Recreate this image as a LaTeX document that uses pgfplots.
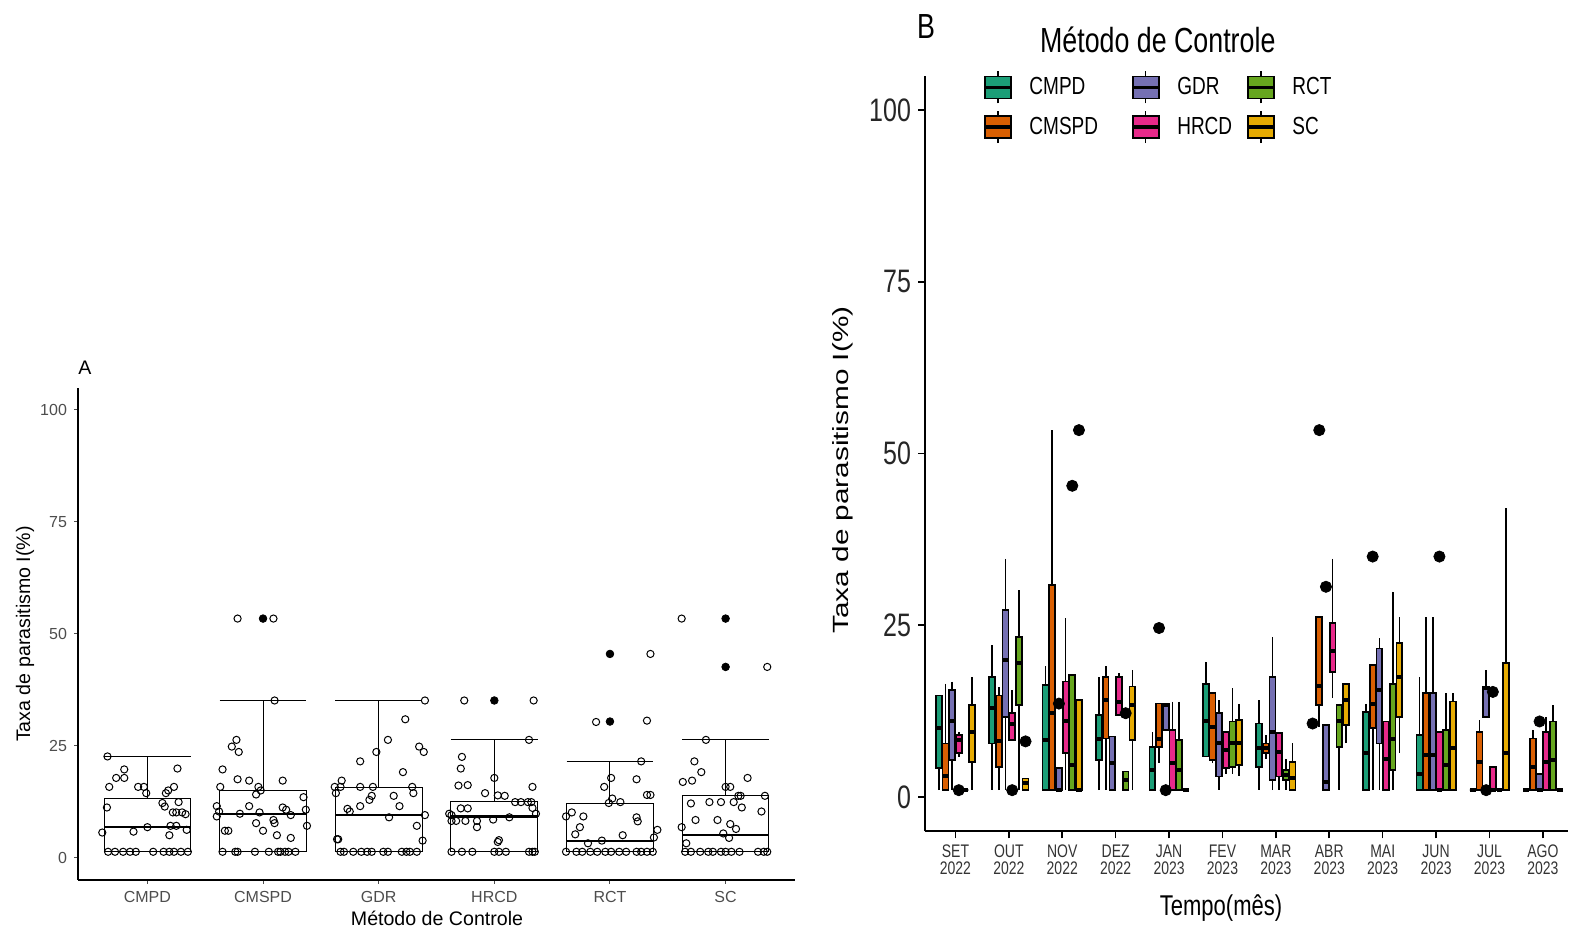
\documentclass[border=0pt]{standalone}
\usepackage{fontspec}
\setmainfont{Liberation Sans}
\usepackage{graphicx}
\usepackage{pgfplots}
\pgfplotsset{compat=1.18}
\usepgfplotslibrary{statistics}
\definecolor{c1}{HTML}{1B9E77}
\definecolor{c2}{HTML}{D95F02}
\definecolor{c3}{HTML}{7570B3}
\definecolor{c4}{HTML}{E7298A}
\definecolor{c5}{HTML}{66A61E}
\definecolor{c6}{HTML}{E6AB02}
\definecolor{axtext}{HTML}{4D4D4D}
\newcommand{\sy}[1]{\scalebox{1}[1.3]{#1}}
\newcommand{\mt}[2]{\sy{\begin{tabular}{@{}c@{}}#1\\[-1.5pt]#2\end{tabular}}}
% month, group, lower whisker, Q1, median, Q3, upper whisker
\newcommand{\bx}[7]{%
  \addplot[forget plot, fill=c#2, draw=black, line width=0.85pt,
    boxplot prepared={draw direction=y, draw position={#1+(#2-3.5)*0.125}, lower whisker=#3,
      lower quartile=#4, median=#5, upper quartile=#6, upper whisker=#7,
      box extend=0.11, whisker extend=0}] coordinates {};}
\newcommand{\ba}[6]{%
  \addplot[forget plot, fill=white, draw=black, line width=0.5pt,
    boxplot prepared={draw direction=y, draw position=#1, lower whisker=#2,
      lower quartile=#3, median=#4, upper quartile=#5, upper whisker=#6,
      box extend=0.75, whisker extend=0.75}] coordinates {};}
\pgfplotsset{boxleg/.style={legend image code/.code={
  \draw[black,line width=0.8pt] (6.5pt,-8pt) -- (6.5pt,8pt);
  \draw[fill=#1,draw=black,line width=0.85pt] (0pt,-5.5pt) rectangle (13pt,5.5pt);
  \draw[black,line width=1.6pt] (0pt,0pt) -- (13pt,0pt);}}}
\begin{document}
\begin{tikzpicture}
\useasboundingbox (0pt,0pt) rectangle (784.5pt,465.5pt);
% ---------------- Panel A ----------------
\begin{axis}[at={(39pt,25.5pt)}, anchor=south west, scale only axis,
  width=358.5pt, height=246.2pt, xmin=0.4, xmax=6.6, ymin=-5, ymax=105,
  axis x line*=bottom, axis y line*=left, axis line style={black,line width=0.6pt,-},
  xtick={1,2,3,4,5,6}, xticklabels={CMPD,CMSPD,GDR,HRCD,RCT,SC},
  ytick={0,25,50,75,100}, yticklabels={0,25,50,75,100},
  tick align=outside, major tick length=2pt, tick style={black!70,line width=0.5pt},
  ticklabel style={font=\fontsize{8}{9.6}\selectfont, text=axtext},
  boxplot/draw direction=y,
  boxplot/every median/.style={line width=1.2pt}, clip=false]
\ba{1}{1.3}{1.3}{6.8}{13.1}{22.6}
\ba{2}{1.3}{1.3}{9.8}{15.0}{35.0}
\ba{3}{1.3}{1.3}{9.5}{15.7}{35.0}
\ba{4}{1.3}{1.3}{9.2}{12.6}{26.3}
\ba{5}{1.3}{1.3}{3.7}{12.2}{21.5}
\ba{6}{1.3}{1.3}{5.1}{13.9}{26.3}
% filled outliers
\addplot[forget plot, only marks, mark=*, mark size=1.9pt, black] coordinates {
(2,53.4)(4,35.1)(5,30.4)(5,45.5)(6,42.6)(6,53.4)};
% jittered observations
\addplot[forget plot, only marks, mark=o, mark size=1.8pt, black, line width=0.5pt] coordinates {
(0.655,22.6)(0.67,15.8)(0.65,11.2)(0.61,5.6)(0.73,17.8)(0.80,17.8)(0.80,19.7)(0.92,15.8)(0.97,15.8)(0.99,14.4)(0.88,5.8)(1.0,6.8)(1.13,12.2)(1.16,14.4)(1.18,15.0)(1.15,11.4)(1.23,15.8)(1.26,19.9)(1.27,12.4)(1.22,10.1)(1.25,10.1)(1.30,10.1)(1.33,9.7)(1.20,7.1)(1.25,7.1)(1.19,5.0)(1.34,6.2)
(0.66,1.3)(0.72,1.3)(0.79,1.3)(0.85,1.3)(0.90,1.3)(1.05,1.3)(1.14,1.3)(1.19,1.3)(1.23,1.3)(1.29,1.3)(1.35,1.3)
(1.78,53.4)(2.09,53.4)(2.10,35.1)(1.77,26.3)(1.73,24.8)(1.79,23.6)(1.65,19.7)(1.63,15.8)(1.78,17.5)(1.88,17.2)(2.17,17.2)(1.96,15.8)(1.98,15.0)(1.94,14.1)(2.35,13.5)(1.60,11.5)(1.62,10.3)(1.60,9.2)(1.88,11.5)(1.80,9.8)(1.97,10.1)(2.17,11.2)(2.20,10.7)(2.37,10.7)(2.24,9.5)(1.94,7.7)(2.09,8.4)(2.10,7.7)(2.0,6.0)(2.12,5.0)(2.24,4.4)(2.38,7.1)(1.67,6.0)(1.70,6.0)
(1.65,1.3)(1.76,1.3)(1.78,1.3)(1.93,1.3)(2.05,1.3)(2.13,1.3)(2.15,1.3)(2.19,1.3)(2.22,1.3)(2.28,1.3)
(3.40,35.1)(3.23,30.9)(3.08,26.3)(2.98,23.6)(3.35,24.8)(3.39,23.6)(2.84,21.5)(3.21,19.1)(2.68,17.2)(2.62,15.8)(2.67,15.8)(2.84,15.8)(2.95,15.8)(3.29,15.8)(2.63,14.4)(3.30,14.4)(2.94,13.8)(3.13,13.8)(2.92,12.9)(2.84,11.5)(3.18,11.5)(2.73,10.9)(2.75,10.3)(3.09,9.0)(3.40,9.5)(3.33,7.1)(3.38,3.8)(2.64,4.1)(2.65,4.1)
(2.67,1.3)(2.70,1.3)(2.78,1.3)(2.85,1.3)(2.90,1.3)(2.94,1.3)(3.04,1.3)(3.08,1.3)(3.20,1.3)(3.24,1.3)(3.27,1.3)(3.33,1.3)
(3.74,35.1)(4.34,35.1)(4.30,26.3)(3.72,22.5)(3.71,19.9)(3.69,16.1)(3.77,16.2)(4.0,17.8)(4.33,15.8)(3.92,14.4)(4.03,13.9)(4.09,13.8)(4.18,12.4)(4.23,12.4)(4.29,12.4)(4.32,12.4)(4.33,11.1)(3.71,11.0)(3.77,11.0)(3.61,9.8)(3.63,9.5)(4.36,9.8)(3.63,8.2)(3.67,8.2)(3.75,8.2)(3.85,8.2)(3.99,8.5)(4.13,9.0)(3.85,6.8)(4.04,3.9)(4.03,3.5)
(3.63,1.3)(3.72,1.3)(3.81,1.3)(4.0,1.3)(4.04,1.3)(4.10,1.3)(4.30,1.3)(4.33,1.3)(4.35,1.3)
(5.35,45.5)(4.88,30.3)(5.32,30.6)(5.27,21.5)(5.01,17.8)(5.23,17.5)(4.95,15.8)(5.02,13.2)(5.09,12.4)(4.99,12.2)(5.32,14.0)(5.35,14.0)(4.67,10.1)(4.62,9.2)(4.77,9.2)(5.23,9.0)(5.24,8.1)(4.74,6.8)(4.70,5.2)(5.41,6.2)(5.38,4.5)(5.11,5.0)(4.93,3.8)(4.81,3.2)
(4.62,1.3)(4.71,1.3)(4.76,1.3)(4.83,1.3)(4.89,1.3)(4.96,1.3)(5.01,1.3)(5.08,1.3)(5.14,1.3)(5.23,1.3)(5.27,1.3)(5.32,1.3)(5.37,1.3)
(5.62,53.4)(6.36,42.6)(5.83,26.3)(5.73,21.5)(5.63,16.9)(5.71,17.2)(5.79,19.1)(6.19,17.8)(6.0,15.8)(6.04,15.8)(6.11,13.8)(6.13,13.8)(6.34,13.8)(5.70,12.1)(5.86,12.4)(5.96,12.4)(6.07,12.4)(6.14,11.2)(6.31,10.3)(5.74,8.4)(5.93,8.4)(6.04,7.5)(6.09,6.4)(5.62,6.8)(5.66,3.2)(5.98,5.4)(6.03,4.4)
(5.65,1.3)(5.70,1.3)(5.78,1.3)(5.85,1.3)(5.89,1.3)(5.96,1.3)(6.0,1.3)(6.05,1.3)(6.12,1.3)(6.28,1.3)(6.33,1.3)(6.36,1.3)
};
\end{axis}
% ---------------- Panel B ----------------
\begin{axis}[at={(462.5pt,49.8pt)}, anchor=south west, scale only axis,
  width=321.5pt, height=377.9pt, xmin=0.43, xmax=12.47, ymin=-5, ymax=105,
  axis x line*=bottom, axis y line*=left, axis line style={black,line width=0.9pt,-},
  xtick={1,2,3,4,5,6,7,8,9,10,11,12},
  xticklabels={\mt{SET}{2022},\mt{OUT}{2022},\mt{NOV}{2022},\mt{DEZ}{2022},\mt{JAN}{2023},\mt{FEV}{2023},\mt{MAR}{2023},\mt{ABR}{2023},\mt{MAI}{2023},\mt{JUN}{2023},\mt{JUL}{2023},\mt{AGO}{2023}},
  ytick={0,25,50,75,100}, yticklabels={\sy{0},\sy{25},\sy{50},\sy{75},\sy{100}},
  tick align=outside, major tick length=3.5pt, tick style={black,line width=0.8pt},
  xticklabel style={font=\fontsize{7}{8.2}\selectfont, text=black!80, align=center, yshift=1.5pt},
  yticklabel style={font=\fontsize{12.5}{14}\selectfont, text=black!85},
  boxplot/draw direction=y,
  boxplot/every median/.style={line width=2pt},
  legend columns=3, legend cell align=left,
  legend style={at={(axis description cs:0.09,1.007)}, anchor=north west, draw=none, fill=none,
    font=\fontsize{9.5}{11}\selectfont, inner sep=0pt, row sep=3pt,
    /tikz/every odd column/.append style={column sep=6.5pt},
    /tikz/column 2/.append style={column sep=14.5pt},
    /tikz/column 4/.append style={column sep=5pt}},
  clip=false]
% SET
\bx{1}{1}{1.0}{4.2}{10.0}{14.8}{14.8}
\bx{1}{2}{1.0}{1.0}{3.0}{7.8}{16.5}
\bx{1}{3}{1.0}{5.4}{11.0}{15.6}{16.8}
\bx{1}{4}{5.9}{6.4}{8.3}{9.0}{9.5}
\bx{1}{5}{1.0}{1.0}{1.0}{1.0}{1.0}
\bx{1}{6}{1.0}{5.1}{9.4}{13.4}{17.5}
% OUT
\bx{2}{1}{1.0}{7.8}{12.9}{17.5}{22.1}
\bx{2}{2}{1.0}{4.4}{8.1}{14.8}{16.0}
\bx{2}{3}{1.0}{11.7}{19.9}{27.2}{34.7}
\bx{2}{4}{8.3}{8.3}{10.7}{12.2}{15.6}
\bx{2}{5}{1.0}{13.4}{19.5}{23.3}{30.1}
\bx{2}{6}{1.0}{1.0}{2.0}{2.7}{2.7}
% NOV
\bx{3}{1}{1.0}{1.0}{8.3}{16.3}{19.0}
\bx{3}{2}{1.0}{1.0}{12.2}{30.9}{53.4}
\bx{3}{3}{1.0}{1.0}{1.0}{4.2}{4.2}
\bx{3}{4}{1.0}{6.4}{11.0}{16.8}{26.0}
\bx{3}{5}{1.0}{1.0}{4.7}{17.8}{17.8}
\bx{3}{6}{1.0}{1.0}{1.0}{14.1}{14.1}
% DEZ
\bx{4}{1}{1.0}{5.4}{8.5}{11.9}{17.5}
\bx{4}{2}{1.0}{8.5}{14.1}{17.5}{19.0}
\bx{4}{3}{1.0}{1.0}{4.9}{8.8}{8.8}
\bx{4}{4}{11.9}{11.9}{13.9}{17.5}{18.0}
\bx{4}{5}{1.0}{1.0}{2.5}{3.7}{3.7}
\bx{4}{6}{1.0}{8.3}{13.4}{16.1}{18.5}
% JAN
\bx{5}{1}{1.0}{1.0}{3.9}{7.3}{9.5}
\bx{5}{2}{5.0}{7.3}{8.5}{13.6}{13.6}
\bx{5}{3}{9.8}{9.8}{13.4}{13.6}{13.6}
\bx{5}{4}{1.0}{1.0}{4.9}{9.8}{13.9}
\bx{5}{5}{1.0}{1.0}{3.9}{8.3}{13.9}
\bx{5}{6}{1.0}{1.0}{1.0}{1.0}{1.0}
% FEV
\bx{6}{1}{5.9}{5.9}{11.0}{16.5}{19.7}
\bx{6}{2}{4.9}{5.4}{10.2}{15.1}{15.1}
\bx{6}{3}{1.0}{3.0}{7.8}{12.2}{14.1}
\bx{6}{4}{3.4}{4.2}{6.8}{9.5}{9.5}
\bx{6}{5}{3.4}{4.4}{7.8}{11.0}{15.8}
\bx{6}{6}{3.0}{4.7}{7.8}{11.2}{13.6}
% MAR
\bx{7}{1}{1.0}{4.4}{7.1}{10.7}{14.1}
\bx{7}{2}{5.6}{6.4}{7.1}{7.8}{9.0}
\bx{7}{3}{1.0}{2.5}{9.5}{17.5}{23.3}
\bx{7}{4}{1.0}{3.0}{6.6}{9.3}{9.3}
\bx{7}{5}{1.0}{2.5}{3.2}{3.9}{5.6}
\bx{7}{6}{1.0}{1.0}{2.7}{5.1}{7.8}
% ABR
\bx{8}{2}{10.2}{13.4}{16.1}{26.2}{26.2}
\bx{8}{3}{1.0}{1.0}{2.2}{10.5}{10.5}
\bx{8}{4}{14.4}{18.2}{21.2}{25.3}{34.7}
\bx{8}{5}{1.0}{7.3}{11.0}{13.4}{13.6}
\bx{8}{6}{7.8}{10.5}{14.1}{16.5}{16.5}
% MAI
\bx{9}{1}{1.0}{1.0}{6.4}{12.4}{13.6}
\bx{9}{2}{1.0}{10.0}{13.6}{19.2}{19.2}
\bx{9}{3}{1.0}{7.8}{15.6}{21.6}{23.1}
\bx{9}{4}{1.0}{1.0}{5.6}{11.0}{11.0}
\bx{9}{5}{1.0}{3.9}{8.5}{16.5}{29.9}
\bx{9}{6}{6.4}{11.7}{17.5}{22.4}{26.2}
% JUN
\bx{10}{1}{1.0}{1.0}{3.4}{9.0}{17.5}
\bx{10}{2}{1.0}{1.0}{6.1}{15.1}{26.2}
\bx{10}{3}{1.0}{1.0}{6.1}{15.1}{26.2}
\bx{10}{4}{1.0}{1.0}{1.0}{9.5}{9.5}
\bx{10}{5}{1.0}{1.0}{4.7}{9.8}{15.1}
\bx{10}{6}{1.0}{1.0}{7.1}{13.9}{15.1}
% JUL
\bx{11}{1}{1.0}{1.0}{1.0}{1.0}{1.0}
\bx{11}{2}{1.0}{1.0}{5.1}{9.5}{11.2}
\bx{11}{3}{11.7}{11.7}{15.8}{16.1}{18.5}
\bx{11}{4}{1.0}{1.0}{1.0}{4.4}{4.4}
\bx{11}{5}{1.0}{1.0}{1.0}{1.0}{1.0}
\bx{11}{6}{1.0}{1.0}{6.4}{19.5}{42.0}
% AGO
\bx{12}{1}{1.0}{1.0}{1.0}{1.0}{1.0}
\bx{12}{2}{1.0}{1.0}{4.4}{8.5}{9.8}
\bx{12}{3}{1.0}{1.0}{1.0}{3.4}{3.4}
\bx{12}{4}{1.0}{1.0}{5.1}{9.5}{11.7}
\bx{12}{5}{1.0}{1.0}{5.4}{11.0}{13.4}
\bx{12}{6}{1.0}{1.0}{1.0}{1.0}{1.0}
% outliers
\addplot[forget plot, only marks, mark=*, mark size=2.8pt, black] coordinates {
(1.0625,1.0)(2.0625,1.0)(2.3125,8.1)(2.9375,13.6)(3.1875,45.3)(3.3125,53.4)
(4.1875,12.2)(4.8125,24.6)(4.9375,1.0)(7.6875,10.7)(7.8125,53.4)(7.9375,30.6)
(8.8125,35.0)(10.0625,35.0)(10.9375,1.0)(11.0625,15.3)(11.9375,11.0)};
\addlegendimage{boxleg=c1}\addlegendentry{\sy{CMPD}}
\addlegendimage{boxleg=c3}\addlegendentry{\sy{GDR}}
\addlegendimage{boxleg=c5}\addlegendentry{\sy{RCT}}
\addlegendimage{boxleg=c2}\addlegendentry{\sy{CMSPD}}
\addlegendimage{boxleg=c4}\addlegendentry{\sy{HRCD}}
\addlegendimage{boxleg=c6}\addlegendentry{\sy{SC}}
\end{axis}
% titles and labels
\node[font=\fontsize{9.8}{11}\selectfont] at (42.5pt,281.5pt) {A};
\node[font=\fontsize{9.8}{11}\selectfont, rotate=90] at (12.5pt,148.5pt) {Taxa de parasitismo I(\%)};
\node[font=\fontsize{9.8}{11}\selectfont] at (218.5pt,6.5pt) {Método de Controle};
\node[font=\fontsize{13.4}{15}\selectfont] at (463pt,452pt) {\sy{B}};
\node[font=\fontsize{13.4}{15}\selectfont, anchor=west] at (516.5pt,445.5pt) {\sy{Método de Controle}};
\node[font=\fontsize{11}{13}\selectfont, rotate=90] at (421.5pt,230.5pt) {\scalebox{1.35}[1]{Taxa de parasitismo I(\%)}};
\node[font=\fontsize{11}{13}\selectfont] at (610.5pt,11.5pt) {\sy{Tempo(mês)}};
\end{tikzpicture}
\end{document}
